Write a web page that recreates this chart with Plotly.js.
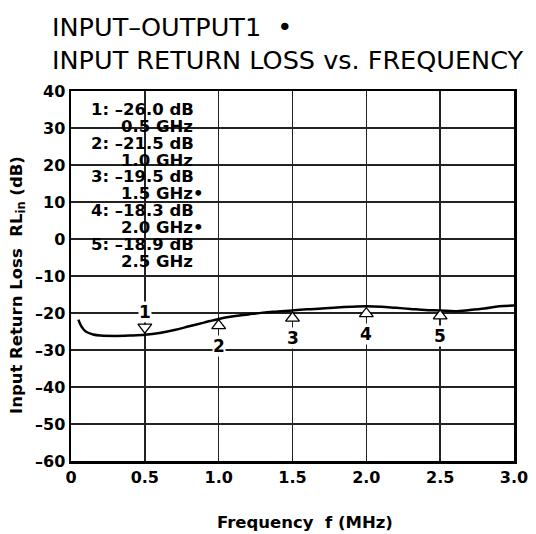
<!DOCTYPE html>
<html>
<head>
<meta charset="utf-8">
<script src="https://cdn.plot.ly/plotly-3.0.1.min.js"></script>
<style>html,body{margin:0;padding:0;background:#fff;}#chart{width:536px;height:534px;}</style>
</head>
<body>
<div id="chart"></div>
<script>
// ---- data ----
const freq = [0.05, 0.07, 0.1, 0.15, 0.2, 0.3, 0.4, 0.5, 0.6, 0.7, 0.8, 0.9, 1.0, 1.1, 1.2, 1.3, 1.4, 1.5, 1.6, 1.7, 1.8, 1.9, 2.0, 2.1, 2.2, 2.3, 2.4, 2.5, 2.6, 2.7, 2.8, 2.9, 3.0];
const returnLoss = [-21.8, -23.6, -25.0, -25.8, -26.1, -26.2, -26.1, -25.9, -25.4, -24.6, -23.6, -22.6, -21.6, -20.9, -20.4, -19.9, -19.6, -19.3, -19.0, -18.8, -18.5, -18.3, -18.2, -18.3, -18.6, -18.9, -19.2, -19.3, -19.5, -19.2, -18.8, -18.2, -18.0];
const markerNames = ["1", "2", "3", "4", "5"];
const markerGHz = [0.5, 1.0, 1.5, 2.0, 2.5];
const markerDb = [-26.0, -21.5, -19.5, -18.3, -18.9];
const markerSuffix = ["", "", "•", "•", ""];
const xTickVals = [0, 0.5, 1.0, 1.5, 2.0, 2.5, 3.0];
const xTickText = ["0", "0.5", "1.0", "1.5", "2.0", "2.5", "3.0"];
const yTickVals = [40, 30, 20, 10, 0, -10, -20, -30, -40, -50, -60];
const yTickText = ["40", "30", "20", "10", "0", "–10", "–20", "–30", "–40", "–50", "–60"];

// ---- layout constants (pixels) ----
const W = 536, H = 534;
const M = {l: 71, r: 22, t: 91, b: 73};
const plotW = W - M.l - M.r, plotH = H - M.t - M.b;
const PX_PER_DB = plotH / 100;
const FONT = "DejaVu Sans, Liberation Sans, Arial, sans-serif";
const px2x = p => (p - M.l) / plotW;
const py2y = p => (H - M.b - p) / plotH;

// marker triangle offsets: first marker points down from above, others up from below
const shiftPx = markerNames.map((n, i) => i === 0 ? -8 : 7);
const markerY = markerDb.map((v, i) => v - shiftPx[i] / PX_PER_DB);
const labelShift = markerNames.map((n, i) => i === 0 ? 23 : -27);

const traces = [
  {x: freq, y: returnLoss, mode: "lines", type: "scatter",
   line: {color: "#000", width: 2.5, shape: "spline", smoothing: 1}, hoverinfo: "skip"},
  {x: markerGHz, y: markerY, mode: "markers", type: "scatter",
   marker: {symbol: markerNames.map((n, i) => i === 0 ? "triangle-down" : "triangle-up"),
            size: 12, color: "#fff", line: {color: "#000", width: 1.3}}, hoverinfo: "skip"}
];

const annotations = [];
markerNames.forEach((n, i) => {
  annotations.push({x: markerGHz[i], y: markerDb[i], xref: "x", yref: "y", text: n,
    showarrow: false, yshift: labelShift[i], bgcolor: "#fff", borderpad: 0,
    xanchor: "center", yanchor: "middle",
    font: {family: FONT, size: 17, color: "#000", weight: "bold"}});
});
// readout block, top-left
markerNames.forEach((n, i) => {
  const y1 = 109.3 + (2 * i) * 16.9, y2 = y1 + 16.9;
  annotations.push({x: px2x(90), y: py2y(y1), xref: "paper", yref: "paper", xanchor: "left", yanchor: "middle",
    text: n + ": –" + Math.abs(markerDb[i]).toFixed(1) + " dB", showarrow: false, borderpad: 0,
    font: {family: FONT, size: 16.5, color: "#000", weight: "bold"}});
  annotations.push({x: px2x(120), y: py2y(y2), xref: "paper", yref: "paper", xanchor: "left", yanchor: "middle",
    text: markerGHz[i].toFixed(1) + " GHz" + markerSuffix[i], showarrow: false, borderpad: 0,
    font: {family: FONT, size: 16.5, color: "#000", weight: "bold"}});
});
// axis titles
annotations.push({x: px2x(305), y: py2y(522), xref: "paper", yref: "paper", showarrow: false,
  xanchor: "center", yanchor: "middle",
  text: "Frequency  f (MHz)", font: {family: FONT, size: 16.5, color: "#000", weight: "bold"}});
annotations.push({x: px2x(17), y: py2y(285), xref: "paper", yref: "paper", showarrow: false, textangle: -90,
  xanchor: "center", yanchor: "middle",
  text: "Input Return Loss  RL<sub>in</sub> (dB)", font: {family: FONT, size: 16.5, color: "#000", weight: "bold"}});

const axisCommon = {showgrid: true, gridcolor: "#222", gridwidth: 1.4, zeroline: false,
  showline: true, linecolor: "#000", linewidth: 2.5, mirror: true, ticks: "",
  tickfont: {family: FONT, size: 16, color: "#000", weight: "bold"}};

const layout = {
  width: W, height: H, margin: M, paper_bgcolor: "#fff", plot_bgcolor: "#fff", showlegend: false,
  title: {text: "INPUT–OUTPUT1  •<br>INPUT RETURN LOSS vs. FREQUENCY", xref: "container", yref: "container",
          x: 52 / W, xanchor: "left", y: 1 - 36 / H, yanchor: "middle",
          font: {family: FONT, size: 25.5, color: "#000"}},
  xaxis: Object.assign({}, axisCommon, {range: [0, 3.0], tickvals: xTickVals, ticktext: xTickText}),
  yaxis: Object.assign({}, axisCommon, {range: [-60, 40], tickvals: yTickVals, ticktext: yTickText}),
  annotations: annotations
};

Plotly.newPlot("chart", traces, layout, {staticPlot: true, displayModeBar: false});
</script>
</body>
</html>
